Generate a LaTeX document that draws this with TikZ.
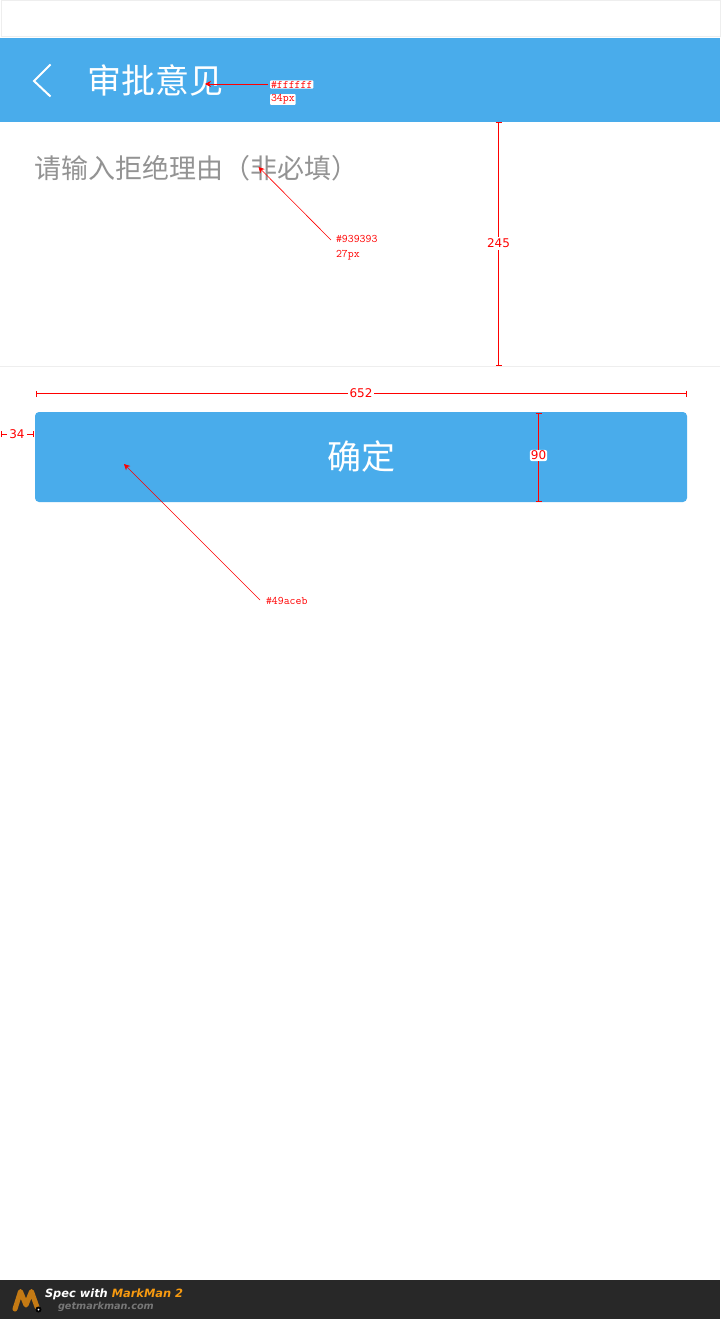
\documentclass[tikz,border=0pt]{standalone}
\usepackage{fontspec}
\usetikzlibrary{arrows.meta}
\newfontfamily\cjk{Noto Sans CJK SC}
\newfontfamily\marknum{DejaVu Sans}
\newfontfamily\brandfont{DejaVu Sans}
\definecolor{headblue}{HTML}{49ACEB}
\definecolor{hintgray}{HTML}{939393}
\definecolor{edgegray}{HTML}{EEEEEE}
\definecolor{footdark}{HTML}{282828}
\definecolor{brandorange}{HTML}{F79A10}
\definecolor{brandgray}{HTML}{777777}
\definecolor{wormbrown}{HTML}{C47A14}
\begin{document}
\begin{tikzpicture}[x=1pt,y=-1pt]
	\tikzstyle{every node}=[inner sep=0pt,outer sep=0pt]
	\tikzstyle{spec}=[red,font=\ttfamily\fontsize{11.5}{15}\selectfont,align=left,anchor=west]
	\tikzstyle{specwhite}=[spec,fill=white,rounded corners=1pt,inner xsep=1pt,inner ysep=0.5pt]
	\tikzstyle{size}=[red,font=\marknum\fontsize{12}{12}\selectfont,inner sep=2pt]
	\tikzstyle{dimline}=[red,line width=1pt]
	\tikzstyle{dimend}=[{Bar[width=6pt,length=1pt]}-]
	\tikzstyle{leader}=[red,line width=0.6pt,-{Stealth[length=6pt,width=6pt]}]

	\useasboundingbox (0,0) rectangle (720,1319);
	\fill[white] (0,0) rectangle (720,1319);
	\draw[edgegray,line width=1pt] (1.5,0.5) rectangle (720.5,37);
	\fill[headblue] (0,38) rectangle (720,122);
	\draw[edgegray,line width=1pt] (0,366.5) -- (720,366.5);
	\fill[headblue,rounded corners=4pt] (35,412) rectangle (687,502);
	\fill[footdark] (0,1280) rectangle (720,1319);

	\draw[white,line width=2pt] (50.5,64.5) -- (34,81) -- (50.5,96.5);
	\node[white,anchor=west,font=\cjk\fontsize{34}{34}\selectfont] (title) at (87,80) {审批意见};
	\node[hintgray,anchor=west,font=\cjk\fontsize{27}{27}\selectfont] (hint) at (34.5,168) {请输入拒绝理由（非必填）};
	\node[white,font=\cjk\fontsize{34}{34}\selectfont] (confirm) at (361,457) {确定};

	\coordinate (titlemark) at (205,84);
	\coordinate (titleend) at (268,84);
	\coordinate (hintmark) at (258.5,167);
	\coordinate (hintend) at (331,240);
	\coordinate (buttonmark) at (124,464);
	\coordinate (buttonend) at (260,600);
	\node[specwhite] (titlespec) at (270,84.5) {\#ffffff};
	\node[specwhite] (titlesize) at (270,99.5) {34px};
	\node[spec] (hintspec) at (336,248) {\#939393\\27px};
	\node[spec] (buttonspec) at (266,601) {\#49aceb};
	\draw[leader] (titleend) -- (titlemark);
	\draw[leader] (hintend) -- (hintmark);
	\draw[leader] (buttonend) -- (buttonmark);

	\coordinate (inputtop) at (498.5,122);
	\coordinate (inputbot) at (498.5,366);
	\coordinate (widthleft) at (35.5,393.5);
	\coordinate (widthright) at (686.5,393.5);
	\coordinate (marginleft) at (0.5,434);
	\coordinate (marginright) at (34,434);
	\coordinate (buttontop) at (538.5,412.5);
	\coordinate (buttonbot) at (538.5,501.5);
	\node[size] (inputsize) at (498.5,243.5) {245};
	\node[size] (widthsize) at (361,393.5) {652};
	\node[size] (marginsize) at (17,434) {34};
	\node[size,fill=white,rounded corners=2pt,inner xsep=1pt,inner ysep=1pt] (buttonsize) at (538.5,455.5) {90};
	\draw[dimline,dimend] (inputtop) -- (inputsize);
	\draw[dimline,dimend] (inputbot) -- (inputsize);
	\draw[dimline,dimend] (widthleft) -- (widthsize);
	\draw[dimline,dimend] (widthright) -- (widthsize);
	\draw[dimline,dimend] (marginleft) -- (marginsize);
	\draw[dimline,dimend] (marginright) -- (marginsize);
	\draw[dimline,dimend] (buttontop) -- (buttonsize);
	\draw[dimline,dimend] (buttonbot) -- (buttonsize);

	\draw[wormbrown,line width=5pt,line cap=round,line join=round] (15,1309) -- (20.5,1291.5) -- (26,1305) -- (31.5,1291.5) -- (37,1307);
	\fill[black] (38.5,1309.5) circle (3pt);
	\fill[white] (38.5,1309.5) circle (1pt);
	\node[anchor=west,white,font=\brandfont\bfseries\itshape\fontsize{11.4}{11.4}\selectfont] (brandspec) at (45,1294) {Spec with \textcolor{brandorange}{MarkMan 2}};
	\node[anchor=west,brandgray,font=\brandfont\bfseries\itshape\fontsize{9.7}{9.7}\selectfont] (brandsite) at (58,1306.5) {getmarkman.com};
\end{tikzpicture}
\end{document}
